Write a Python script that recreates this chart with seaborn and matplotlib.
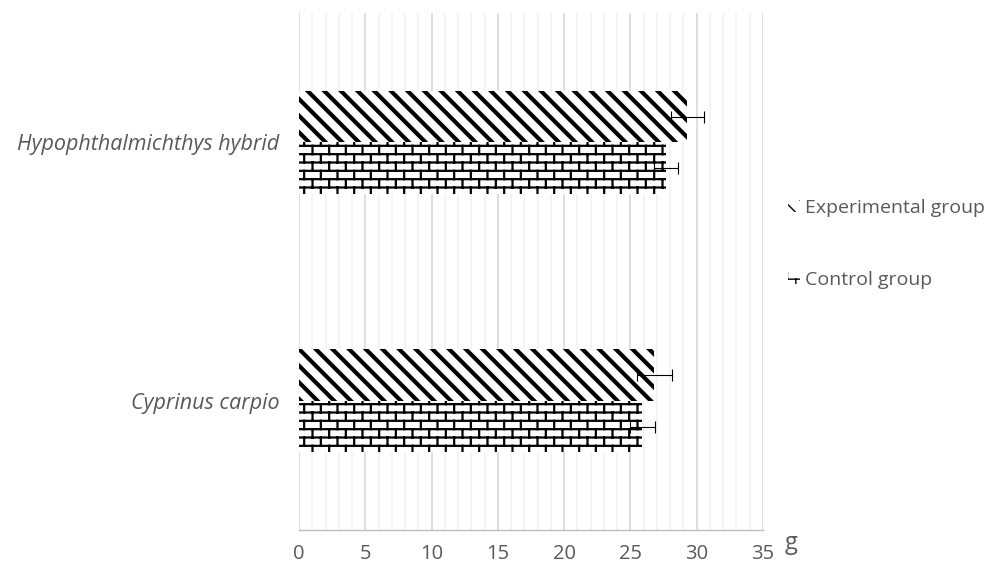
import numpy as np
import pandas as pd
import seaborn as sns
import matplotlib.pyplot as plt
import matplotlib.hatch as mhatch
from matplotlib.path import Path
from matplotlib.patches import Patch
from matplotlib.ticker import MultipleLocator

species = ['Hypophthalmichthys hybrid', 'Cyprinus carpio']
groups = ['Experimental group', 'Control group']
exp_mean = [29.3, 26.8]
exp_err = [1.25, 1.3]
ctrl_mean = [27.7, 25.9]
ctrl_err = [0.92, 0.93]
x_ticks = [0, 5, 10, 15, 20, 25, 30, 35]


# brick hatch (Excel style), used in place of the '*' hatch
class BrickHatch(mhatch.HatchPatternBase):
    def __init__(self, hatch, density):
        n = hatch.count('*')
        self.rows = 2 * n * density
        self.cols = n * density
        if self.rows:
            self.num_vertices = self.rows * 2 + (self.rows - 1) * self.cols * 2 + self.cols * 4
        else:
            self.num_vertices = 0

    def set_vertices_and_codes(self, vertices, codes):
        h = 1.0 / self.rows
        w = 1.0 / self.cols
        segs = []
        for k in range(self.rows):
            y = (k + 0.5) * h
            segs.append(((0.0, y), (1.0, y)))
        for k in range(self.rows):
            off = 0.25 * w + 0.5 * w * (k % 2)
            y0 = (k + 0.5) * h
            for j in range(self.cols):
                x = j * w + off
                if k < self.rows - 1:
                    segs.append(((x, y0), (x, y0 + h)))
                else:
                    segs.append(((x, y0), (x, 1.0)))
                    segs.append(((x, 0.0), (x, 0.5 * h)))
        pts = np.array(segs).reshape(-1, 2)
        vertices[:] = pts
        codes[0::2] = Path.MOVETO
        codes[1::2] = Path.LINETO


mhatch._hatch_types = [t for t in mhatch._hatch_types if t is not mhatch.Stars] + [BrickHatch]

sns.set_style('white')
plt.rcParams['font.family'] = ['Open Sans', 'DejaVu Sans']
txt = '#595959'

df = pd.DataFrame({
    'species': species * 2,
    'group': [groups[0]] * 2 + [groups[1]] * 2,
    'weight': exp_mean + ctrl_mean,
})

fig = plt.figure(figsize=(9.98, 5.71), dpi=100)
ax = fig.add_axes([0.2996, 0.0718, 0.4649, 0.905])

sns.barplot(data=df, y='species', x='weight', hue='group', order=species,
            hue_order=groups, orient='h', width=0.4, errorbar=None,
            edgecolor='black', linewidth=0, legend=False, ax=ax)

hatches = ['\\\\', '*']
hlw = [3.0, 1.6]
errs = [exp_err, ctrl_err]
means = [exp_mean, ctrl_mean]
bar_sets = list(ax.containers)
for i, cont in enumerate(bar_sets):
    ys = []
    for bar in cont:
        bar.set_facecolor('white')
        bar.set_hatch(hatches[i])
        if hasattr(bar, 'set_hatch_linewidth'):
            bar.set_hatch_linewidth(hlw[i])
        ys.append(bar.get_y() + bar.get_height() / 2)
    ax.errorbar(means[i], ys, xerr=errs[i], fmt='none', ecolor='black',
                elinewidth=0.8, capsize=4.5, capthick=0.8, zorder=5)

ax.set_xlim(0, 35)
ax.set_ylim(1.5, -0.5)
ax.xaxis.set_major_locator(MultipleLocator(5))
ax.xaxis.set_minor_locator(MultipleLocator(1))
ax.set_xticks(x_ticks)
ax.grid(axis='x', which='major', color='#d9d9d9', linewidth=1.2, zorder=0)
ax.grid(axis='x', which='minor', color='#f2f2f2', linewidth=1.2, zorder=0)
ax.set_axisbelow(True)
for s in ['top', 'right', 'left']:
    ax.spines[s].set_visible(False)
ax.spines['bottom'].set_color('#bfbfbf')
ax.spines['bottom'].set_linewidth(1.0)
ax.tick_params(axis='x', which='major', length=5, color='#bfbfbf', labelsize=14.5,
               labelcolor=txt, pad=5)
ax.tick_params(axis='x', which='minor', length=0)
ax.tick_params(axis='y', length=0, labelsize=15.5, labelcolor=txt, pad=14)
for lab in ax.get_yticklabels():
    lab.set_fontstyle('italic')
ax.set_xlabel('')
ax.set_ylabel('')
fig.text(0.786, 0.038, 'g', fontsize=17, color=txt)

handles = []
for i, g in enumerate(groups):
    p = Patch(facecolor='white', edgecolor='black', linewidth=0, hatch=hatches[i], label=g)
    if hasattr(p, 'set_hatch_linewidth'):
        p.set_hatch_linewidth(hlw[i])
    handles.append(p)
leg = fig.legend(handles=handles, loc='center left', bbox_to_anchor=(0.772, 0.573),
                 frameon=False, fontsize=14, labelcolor=txt, handlelength=0.6,
                 handleheight=0.6, handletextpad=0.3, labelspacing=2.75)

fig.savefig('out.png', dpi=100)
